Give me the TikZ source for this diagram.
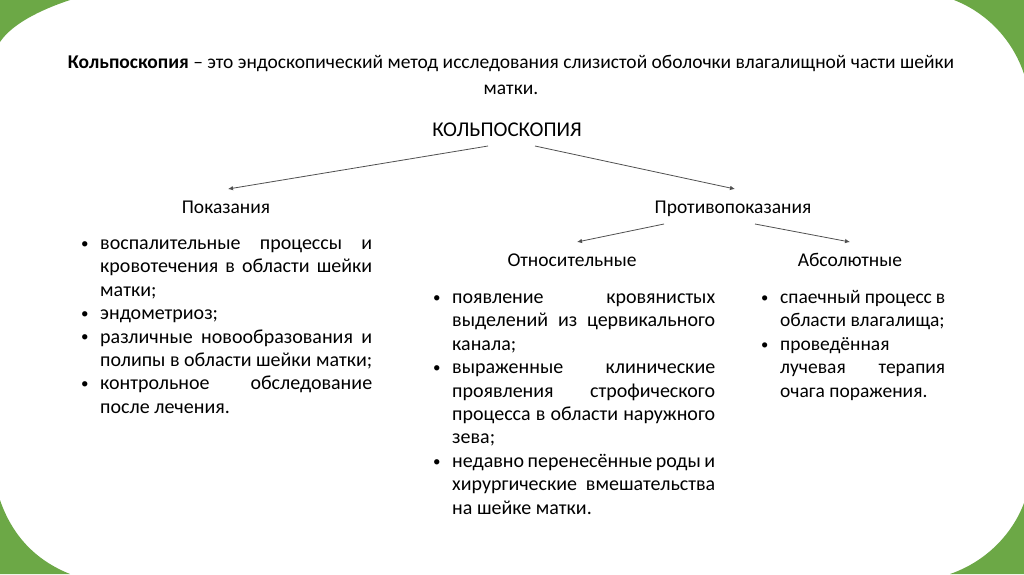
\documentclass[tikz,border=0pt]{standalone}
\usepackage{fontspec}
\setmainfont{Carlito}
\usetikzlibrary{arrows.meta,calc}
\definecolor{frame}{RGB}{108,168,70}
\definecolor{arr}{RGB}{80,80,80}
\newcommand\bul{\par\noindent\hangindent=20pt\hangafter=1\makebox[20pt][l]{\hspace{1pt}\raisebox{0.12ex}{\scalebox{0.75}{\textbullet}}}\ignorespaces}
\tikzset{
  lbl/.style={inner sep=0pt, anchor=base, font=\fontsize{19.5}{22}\selectfont},
  lst/.style={inner sep=0pt, anchor=base west, align=justify, font=\fontsize{20}{23.4}\selectfont},
  con/.style={draw=arr, line width=0.8pt, -{Latex[length=5pt,width=4.5pt]}}
}
\begin{document}
\begin{tikzpicture}[x=1pt,y=-1pt]
\useasboundingbox (0,0) rectangle (1024,574);
\fill[white] (0,0) rectangle (1024,574);
% green corners
\fill[frame] (0,0) -- (70,0) .. controls (40,10) and (12,24) .. (0,42) -- cycle;
\fill[frame] (1024,0) -- (954,0) .. controls (985,12) and (1012,38) .. (1024,74) -- cycle;
\fill[frame] (0,574) -- (0,500) .. controls (12,535) and (35,560) .. (70,574) -- cycle;
\fill[frame] (1024,574) -- (1024,503) .. controls (1012,535) and (985,562) .. (950,574) -- cycle;
% title
\node[inner sep=0pt, align=center, font=\fontsize{19.5}{26}\selectfont, anchor=base] (title) at (511,94)
  {\textbf{Кольпоскопия} – это эндоскопический метод исследования слизистой оболочки влагалищной части шейки\\матки.};
\node[lbl, font=\fontsize{21}{24}\selectfont] (root) at (507,136) {КОЛЬПОСКОПИЯ};
\node[lbl] (pok) at (226,213) {Показания};
\node[lbl] (prot) at (733,213) {Противопоказания};
\node[lbl] (otn) at (572,266) {Относительные};
\node[lbl] (abs) at (850,266) {Абсолютные};
\draw[con] ($(root.base)+(-19,10)$) -- ($(pok.base)+(2,-24)$);
\draw[con] ($(root.base)+(28,10)$) -- ($(prot.base)+(2,-24)$);
\draw[con] ($(prot.base)+(-69,11)$) -- ($(otn.base)+(5,-24)$);
\draw[con] ($(prot.base)+(22,11)$) -- ($(abs.base)+(0,-24)$);
% lists
\node[lst, text width=292pt] (l1) at (80,226) {%
\bul воспалительные процессы и\linebreak кровотечения в области шейки\linebreak матки;
\bul эндометриоз;
\bul различные новообразования и\linebreak полипы в области шейки матки;
\bul контрольное обследование\linebreak после лечения.\par};
\node[lst, text width=283pt] (l2) at (432,280) {%
\bul появление кровянистых\linebreak выделений из цервикального\linebreak канала;
\bul выраженные клинические\linebreak проявления строфического\linebreak процесса в области наружного\linebreak зева;
\bul недавно перенесённые роды и\linebreak хирургические вмешательства\linebreak на шейке матки.\par};
\node[lst, text width=185pt, font=\fontsize{19.5}{23.4}\selectfont] (l3) at (760,280) {%
\bul спаечный~процесс~в\linebreak области~влагалища;
\bul проведённая\newline лучевая терапия\linebreak очага поражения.\par};
\end{tikzpicture}
\end{document}
